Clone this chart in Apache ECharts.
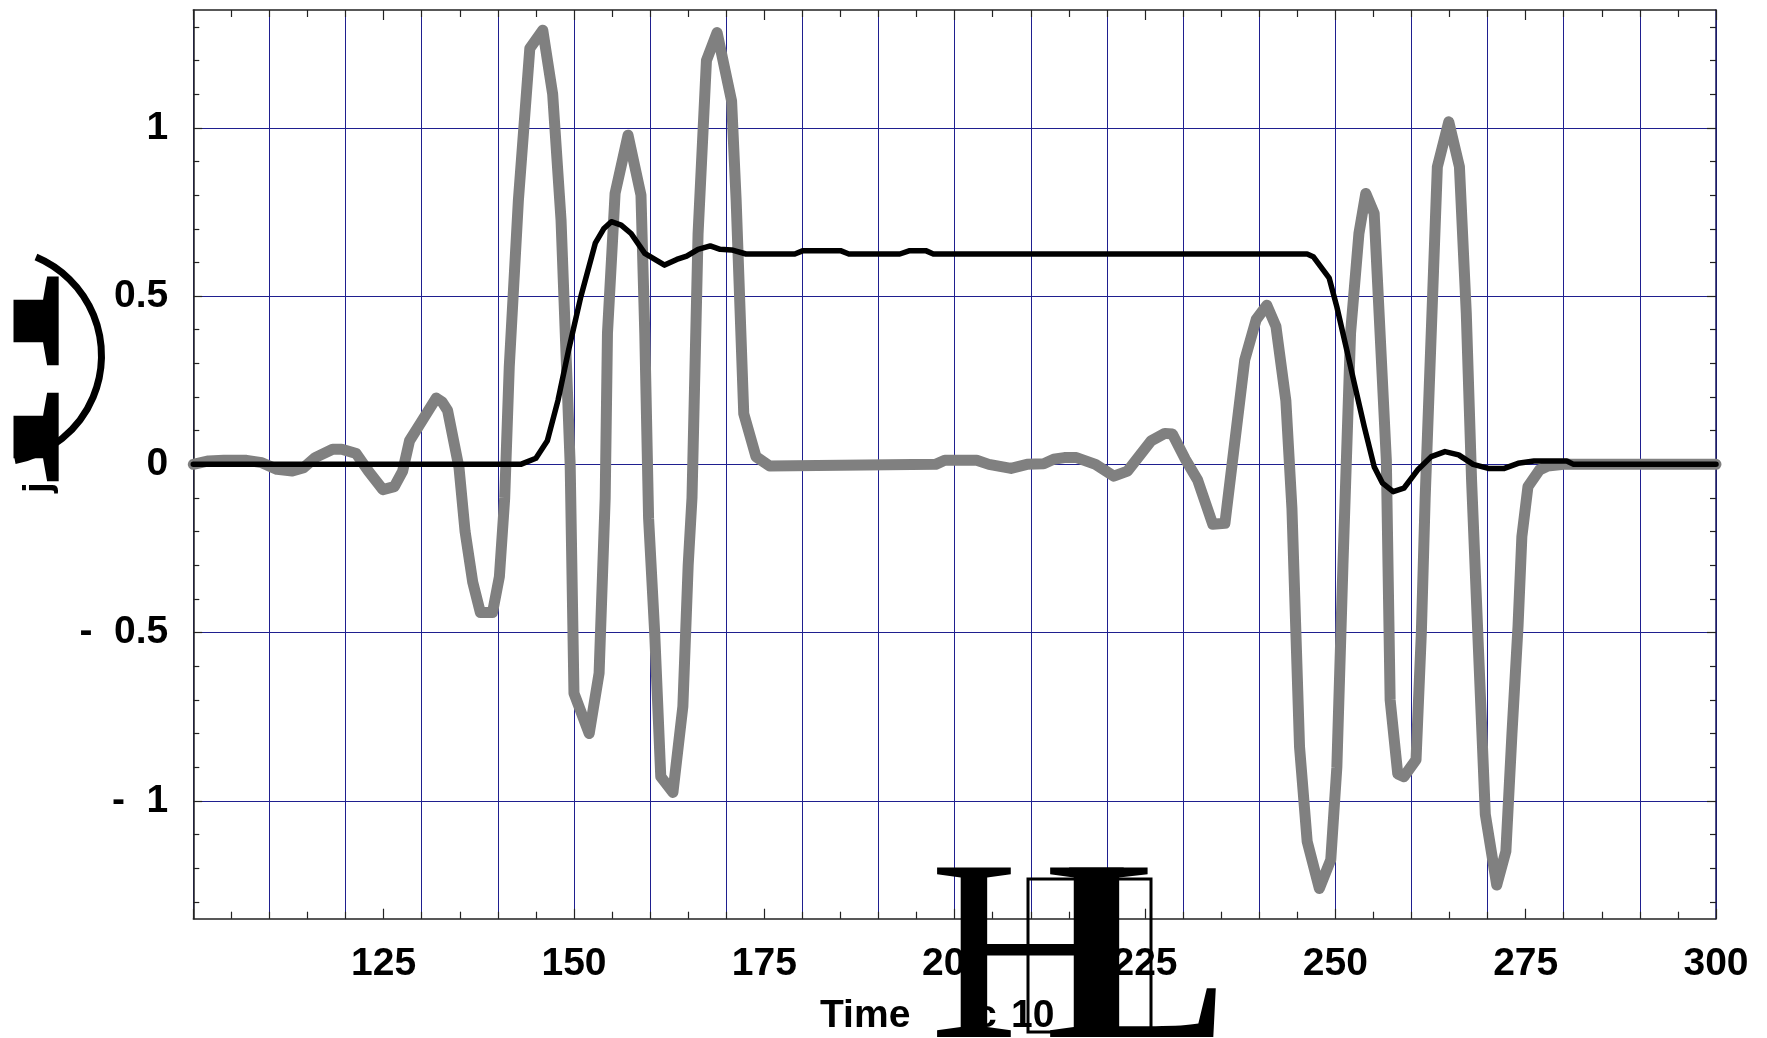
<!DOCTYPE html>
<html>
<head>
<meta charset="utf-8">
<title>j vs Time</title>
<script src="https://cdn.jsdelivr.net/npm/echarts@6/dist/echarts.min.js"></script>
<style>
  html, body { margin: 0; padding: 0; background: #fff; }
  #chart { width: 1767px; height: 1038px; }
</style>
</head>
<body>
<div id="chart"></div>
<script>
// gray trace (thick)
const grayTime = [100, 102, 104, 107, 109, 111, 113, 114.5, 116, 118.3,
  119.5, 121.4, 123, 124.9, 126.4, 127.5, 128.4, 130.2, 131.9, 132.7,
  133.4, 134.9, 135.7, 136.7, 137.7, 139.3, 140.2, 140.9, 141.5, 142.7,
  144.2, 145.9, 147.2, 148.3, 149.5, 150.0, 152.0, 153.3, 154.1, 154.4,
  155.4, 157.1, 158.8, 159.3, 159.8, 160.6, 161.4, 163.0, 164.3, 165.0,
  165.5, 166.3, 167.4, 168.8, 170.7, 171.3, 172.3, 173.9, 175.7, 197.5,
  198.7, 202.9, 204.5, 207.4, 209.5, 211.7, 213, 214.4, 216, 218.5,
  220.9, 222.7, 225.8, 227.6, 228.6, 230.3, 231.9, 233.9, 235.5, 238.1,
  239.6, 241.0, 242.2, 243.5, 244.3, 245.3, 246.3, 247.9, 249.4, 250.2,
  251.0, 252.0, 253.1, 254.0, 255.1, 256.7, 257.2, 258.2, 259.0, 260.6,
  261.3, 261.8, 263.4, 264.9, 266.3, 267.2, 267.9, 268.8, 269.7, 271.2,
  272.4, 273.2, 274.0, 274.5, 275.3, 276.8, 277.9, 280, 300]
const grayJ = [0, 0.01, 0.012, 0.012, 0.005, -0.015, -0.02, -0.01, 0.02, 0.045,
  0.045, 0.032, -0.02, -0.075, -0.066, -0.02, 0.07, 0.135, 0.197, 0.185,
  0.16, -0.01, -0.2, -0.35, -0.44, -0.44, -0.334, -0.1, 0.29, 0.785,
  1.236, 1.29, 1.1, 0.726, 0.0, -0.68, -0.80, -0.62, -0.1, 0.39,
  0.805, 0.978, 0.80, 0.39, -0.16, -0.50, -0.928, -0.975, -0.72, -0.30,
  -0.1, 0.686, 1.2, 1.283, 1.08, 0.785, 0.15, 0.023, -0.005, 0,
  0.012, 0.012, 0, -0.012, 0, 0.002, 0.015, 0.02, 0.02, 0,
  -0.035, -0.02, 0.07, 0.092, 0.09, 0.015, -0.046, -0.178, -0.175, 0.31,
  0.43, 0.473, 0.41, 0.19, -0.13, -0.84, -1.12, -1.26, -1.175, -0.90,
  -0.30, 0.39, 0.686, 0.805, 0.746, 0.013, -0.70, -0.92, -0.928, -0.878,
  -0.50, -0.1, 0.884, 1.018, 0.884, 0.45, -0.05, -0.55, -1.04, -1.25,
  -1.15, -0.80, -0.48, -0.215, -0.066, -0.017, -0.005, 0, 0]

// black trace (thin)
const blackTime = [100, 143.0, 145.0, 146.5, 147.9, 149.3, 150.9, 152.8, 153.9, 154.9,
  156.2, 157.5, 159.3, 161.9, 163.5, 164.8, 166.3, 167.9, 169.2, 170.7,
  172.6, 179.0, 180.1, 185.0, 186.1, 192.8, 194.1, 196.2, 197.2, 246.3,
  247.1, 249.2, 250.2, 251.5, 252.5, 253.8, 255.1, 256.2, 257.6, 259.0,
  260.8, 262.6, 264.4, 266.2, 268.1, 270.1, 272.2, 274.0, 276.1, 280.4,
  281.3, 300]
const blackJ = [0, 0, 0.018, 0.07, 0.19, 0.34, 0.498, 0.657, 0.70, 0.721,
  0.711, 0.686, 0.627, 0.592, 0.609, 0.619, 0.639, 0.649, 0.639, 0.637,
  0.625, 0.625, 0.635, 0.635, 0.625, 0.625, 0.635, 0.635, 0.625, 0.625,
  0.617, 0.553, 0.468, 0.34, 0.24, 0.112, -0.007, -0.056, -0.081, -0.071,
  -0.017, 0.023, 0.038, 0.028, 0, -0.012, -0.012, 0.003, 0.01, 0.01,
  0, 0]

// ticks / labels
const xTickLabels = [125, 150, 175, 200, 225, 250, 275, 300]
const yTickLabels = [-1, -0.5, 0, 0.5, 1]
const yMinorTicks = []
for (let k = -13; k <= 13; k++) {
  if (k % 5 !== 0) yMinorTicks.push(k / 10)
}

const GRID_BLUE = '#1f1f8f'
const FRAME = '#222'
const SANS = '"Liberation Sans", Arial, sans-serif'
const SERIF = '"Liberation Serif", "Times New Roman", serif'
const labelFont = {
  fontFamily: SANS,
  fontWeight: 'bold',
  fontSize: 39,
  color: '#000'
}

const pairs = (xs, ys) => xs.map((x, i) => [x, ys[i]])

const xBase = {
  type: 'value',
  min: 100,
  max: 300,
  interval: 25,
  axisLine: { show: true, onZero: false, lineStyle: { color: FRAME, width: 1.5 } },
  axisTick: { show: true, inside: true, length: 10, lineStyle: { color: FRAME, width: 1.2 } },
  minorTick: { show: true, splitNumber: 5, length: 7, lineStyle: { color: FRAME, width: 1.2 } },
  splitLine: { show: false },
  minorSplitLine: { show: false }
}

const yBase = {
  type: 'value',
  min: -1.35,
  max: 1.35,
  axisLine: { show: false, onZero: false },
  axisTick: { show: true, inside: true, length: 9, customValues: yTickLabels, lineStyle: { color: FRAME, width: 1.2 } },
  axisLabel: { show: false },
  splitLine: { show: false }
}

// text helper for the title pieces
const txt = (text, x, y, font, extra) => Object.assign({
  type: 'text', x, y, z: 50,
  style: { text, font, fill: '#000', align: 'left', verticalAlign: 'middle' }
}, extra || {})

const chart = echarts.init(document.getElementById('chart'), null, { renderer: 'canvas' })

const option = {
  animation: false,
  backgroundColor: '#fff',
  grid: {
    left: 193.3,
    right: 51,
    top: 10,
    bottom: 119.3,
    containLabel: false,
    outerBoundsMode: 'none'
  },
  xAxis: [
    Object.assign({}, xBase, {
      position: 'bottom',
      axisLabel: Object.assign({
        show: true,
        margin: 26,
        customValues: xTickLabels,
        formatter: (v) => String(v),
        alignMinLabel: 'center',
        alignMaxLabel: 'center',
        hideOverlap: false
      }, labelFont)
    }),
    Object.assign({}, xBase, {
      position: 'top',
      axisLabel: { show: false }
    }),
    {
      // grid lines every 10
      type: 'value',
      position: 'bottom',
      min: 100,
      max: 300,
      interval: 10,
      axisLine: { show: false },
      axisTick: { show: false },
      axisLabel: { show: false },
      splitLine: { show: true, lineStyle: { color: GRID_BLUE, width: 1 } }
    }
  ],
  yAxis: [
    Object.assign({}, yBase, {
      position: 'left',
      axisLine: { show: true, onZero: false, lineStyle: { color: FRAME, width: 1.5 } },
      axisLabel: Object.assign({
        show: true,
        margin: 25,
        customValues: yTickLabels,
        formatter: (v) => (v < 0 ? '-  ' + Math.abs(v) : String(v)),
        showMinLabel: true,
        showMaxLabel: true,
        hideOverlap: false
      }, labelFont),
      splitLine: { show: true, lineStyle: { color: GRID_BLUE, width: 1 } }
    }),
    Object.assign({}, yBase, {
      position: 'left',
      axisTick: { show: true, inside: true, length: 6, customValues: yMinorTicks, lineStyle: { color: FRAME, width: 1.2 } }
    }),
    Object.assign({}, yBase, {
      position: 'right',
      axisLine: { show: true, onZero: false, lineStyle: { color: '#1a1a5e', width: 1.5 } }
    }),
    Object.assign({}, yBase, {
      position: 'right',
      axisTick: { show: true, inside: true, length: 6, customValues: yMinorTicks, lineStyle: { color: FRAME, width: 1.2 } }
    })
  ],
  series: [
    {
      name: 'gray',
      type: 'line',
      xAxisIndex: 0,
      yAxisIndex: 0,
      data: pairs(grayTime, grayJ),
      showSymbol: false,
      symbol: 'none',
      clip: true,
      z: 3,
      lineStyle: { color: '#808080', width: 11, cap: 'round', join: 'round' }
    },
    {
      name: 'black',
      type: 'line',
      xAxisIndex: 0,
      yAxisIndex: 0,
      data: pairs(blackTime, blackJ),
      showSymbol: false,
      symbol: 'none',
      clip: true,
      z: 4,
      lineStyle: { color: '#000', width: 5.5, cap: 'round', join: 'round' }
    }
  ],
  graphic: [
    // x axis title, with the broken glyphs it was exported with
    txt('Time', 820, 1016, 'bold 39px ' + SANS),
    txt('c', 975, 1016, 'bold 39px ' + SANS),
    txt('10', 1011, 1016, 'bold 39px ' + SANS),
    txt('H', 929, 969, '259px ' + SERIF, { scaleX: 1.085, z: 60 }),
    txt('L', 1061, 969, '259px ' + SERIF, { scaleX: 1.085, z: 60 }),
    {
      type: 'rect', z: 61,
      shape: { x: 1028, y: 879, width: 123, height: 153 },
      style: { stroke: '#000', lineWidth: 3, fill: null }
    },
    // y axis title, rotated
    txt('j', 39.5, 493, 'bold 39px ' + SANS, { rotation: Math.PI / 2 }),
    txt('H', -24, 486, 'bold 320px ' + SERIF, { rotation: Math.PI / 2, scaleX: 0.86 }),
    {
      type: 'rect', z: 55,
      shape: { x: 0, y: 240, width: 13.5, height: 240 },
      style: { fill: '#fff', stroke: null }
    },
    {
      type: 'arc', z: 56,
      shape: { cx: -5.5, cy: 355.6, r: 107, startAngle: -67.2 * Math.PI / 180, endAngle: 79 * Math.PI / 180, clockwise: true },
      style: { stroke: '#000', lineWidth: 7, fill: null }
    }
  ]
}

chart.setOption(option)
</script>
</body>
</html>
